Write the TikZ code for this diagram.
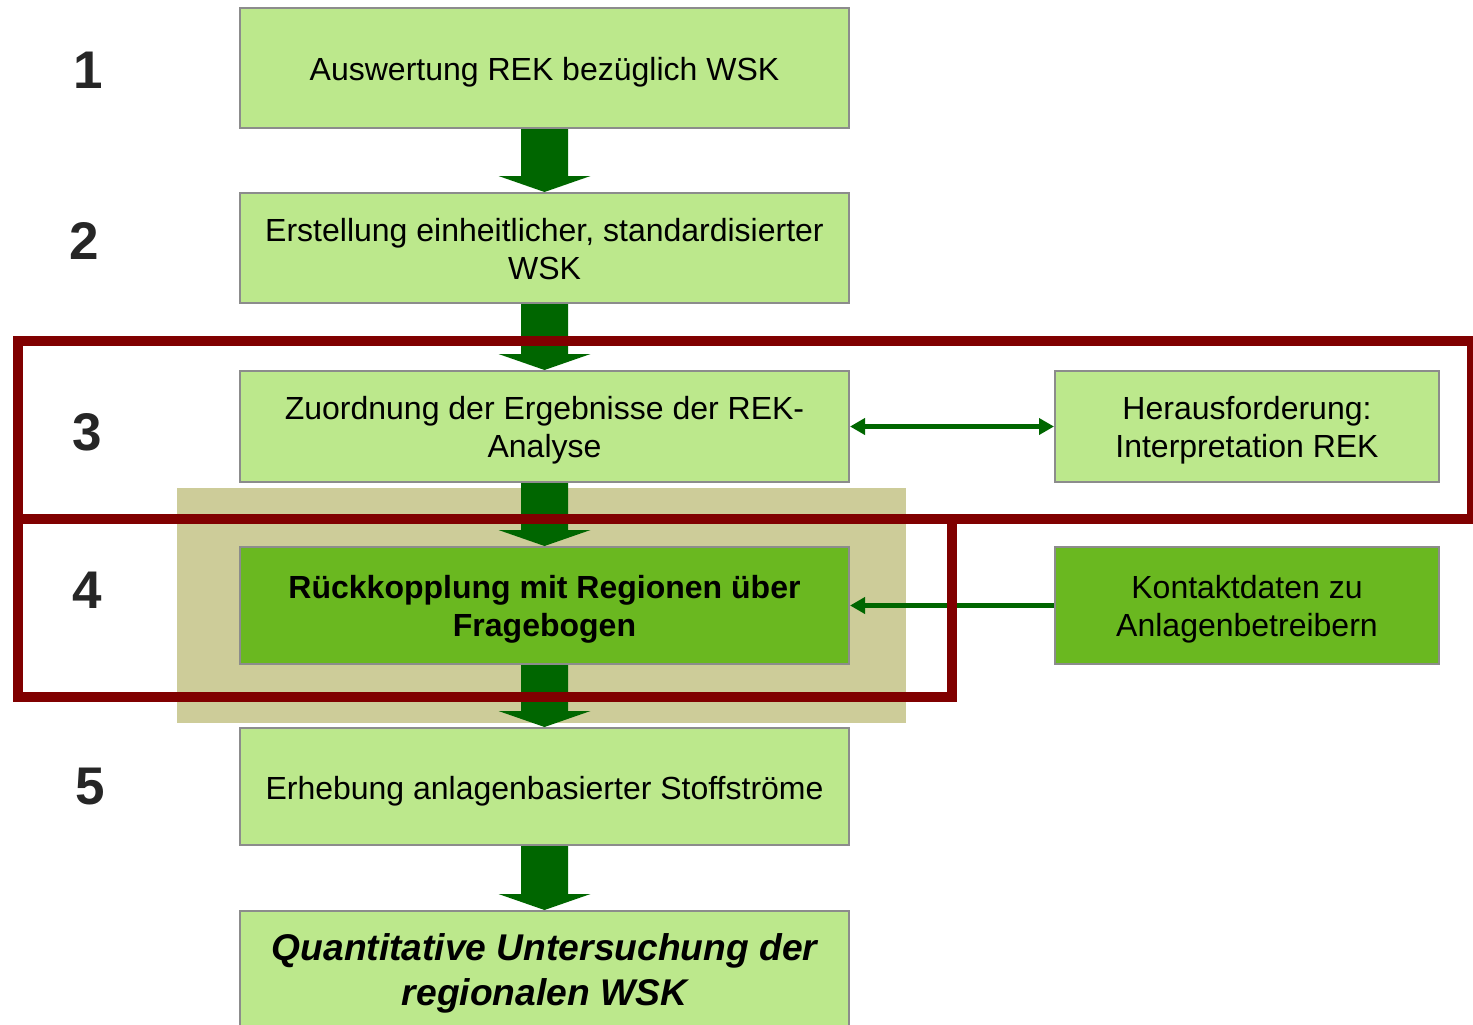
\documentclass[tikz,border=0pt]{standalone}
\usepackage{fontspec}
\setmainfont{Liberation Sans}
\usetikzlibrary{calc,arrows.meta}
\definecolor{lightgreen}{HTML}{BCE88C}
\definecolor{midgreen}{HTML}{6AB820}
\definecolor{arrowgreen}{HTML}{006600}
\definecolor{framered}{HTML}{800000}
\definecolor{bgtan}{HTML}{CDCC99}
\definecolor{boxgray}{HTML}{8C8C8C}
\definecolor{numgray}{HTML}{262626}
\newcommand{\flowarrow}[2]{\fill[arrowgreen] ($(#1.south)+(-23.5,0)$) -- ($(#2.north)+(-23.5,-16)$) -- ($(#2.north)+(-46,-16)$) -- (#2.north) -- ($(#2.north)+(46,-16)$) -- ($(#2.north)+(23.5,-16)$) -- ($(#1.south)+(23.5,0)$) -- cycle;}
\begin{document}
\begin{tikzpicture}[x=0.5pt,y=-0.5pt,
  textdrop/.store in=\dropheight,
  stepbox/.style={draw=boxgray,line width=1pt,fill=lightgreen,minimum width=304.5pt,inner sep=0pt,align=center,font=\fontsize{16pt}{19pt}\selectfont,textdrop=34.7pt,execute at begin node={\rule{0pt}{\dropheight}}},
  sidebox/.style={stepbox,minimum width=192pt},
  numlabel/.style={text=numgray,font=\fontsize{26.5pt}{30pt}\selectfont\bfseries},
  thinarrow/.style={arrowgreen,line width=2.5pt},
  tip/.tip={Triangle[length=7.5pt,width=8pt]}]
  \useasboundingbox (0,0) rectangle (1473,1024);
  \fill[bgtan] (177,488) rectangle (906,723);

  \node[numlabel] (n1) at (88,70) {1};\node[numlabel] (n2) at (84,241) {2};\node[numlabel] (n3) at (87,432) {3};\node[numlabel] (n4) at (87,590) {4};\node[numlabel] (n5) at (90,787) {5};

  \node[stepbox,minimum height=60pt,textdrop=16.2pt] (s1) at (544.5,68) {Auswertung REK bezüglich WSK};
  \node[stepbox,minimum height=55pt,textdrop=31.7pt] (s2) at (544.5,248) {Erstellung einheitlicher, standardisierter\\WSK};
  \node[stepbox,minimum height=55.5pt] (s3) at (544.5,426.5) {Zuordnung der Ergebnisse der REK-\\Analyse};
  \node[stepbox,minimum height=58.5pt,fill=midgreen,font=\fontsize{16pt}{19pt}\selectfont\bfseries] (s4) at (544.5,605.5) {Rückkopplung mit Regionen über\\Fragebogen};
  \node[stepbox,minimum height=58.5pt,textdrop=16.2pt] (s5) at (544.5,786.5) {Erhebung anlagenbasierter Stoffströme};
  \node[stepbox,minimum height=60pt,font=\fontsize{18.6pt}{22.5pt}\selectfont\bfseries\itshape,textdrop=38.6pt] (s6) at (544.5,971) {Quantitative Untersuchung der\\regionalen WSK};

  \node[sidebox,minimum height=55.5pt] (h3) at (1247,426.5) {Herausforderung:\\Interpretation REK};
  \node[sidebox,minimum height=58.5pt,fill=midgreen] (k4) at (1247,605.5) {Kontaktdaten zu\\Anlagenbetreibern};

  \flowarrow{s1}{s2}
  \flowarrow{s2}{s3}
  \flowarrow{s3}{s4}
  \flowarrow{s4}{s5}
  \flowarrow{s5}{s6}

  \draw[thinarrow,{tip}-{tip}] (s3.east) -- (h3.west);
  \draw[thinarrow,-{tip}] (k4.west) -- (s4.east);

  \draw[framered,line width=5pt] (18,341) rectangle (1472,519);
  \draw[framered,line width=5pt] (18,519) rectangle (952,697);
\end{tikzpicture}
\end{document}
